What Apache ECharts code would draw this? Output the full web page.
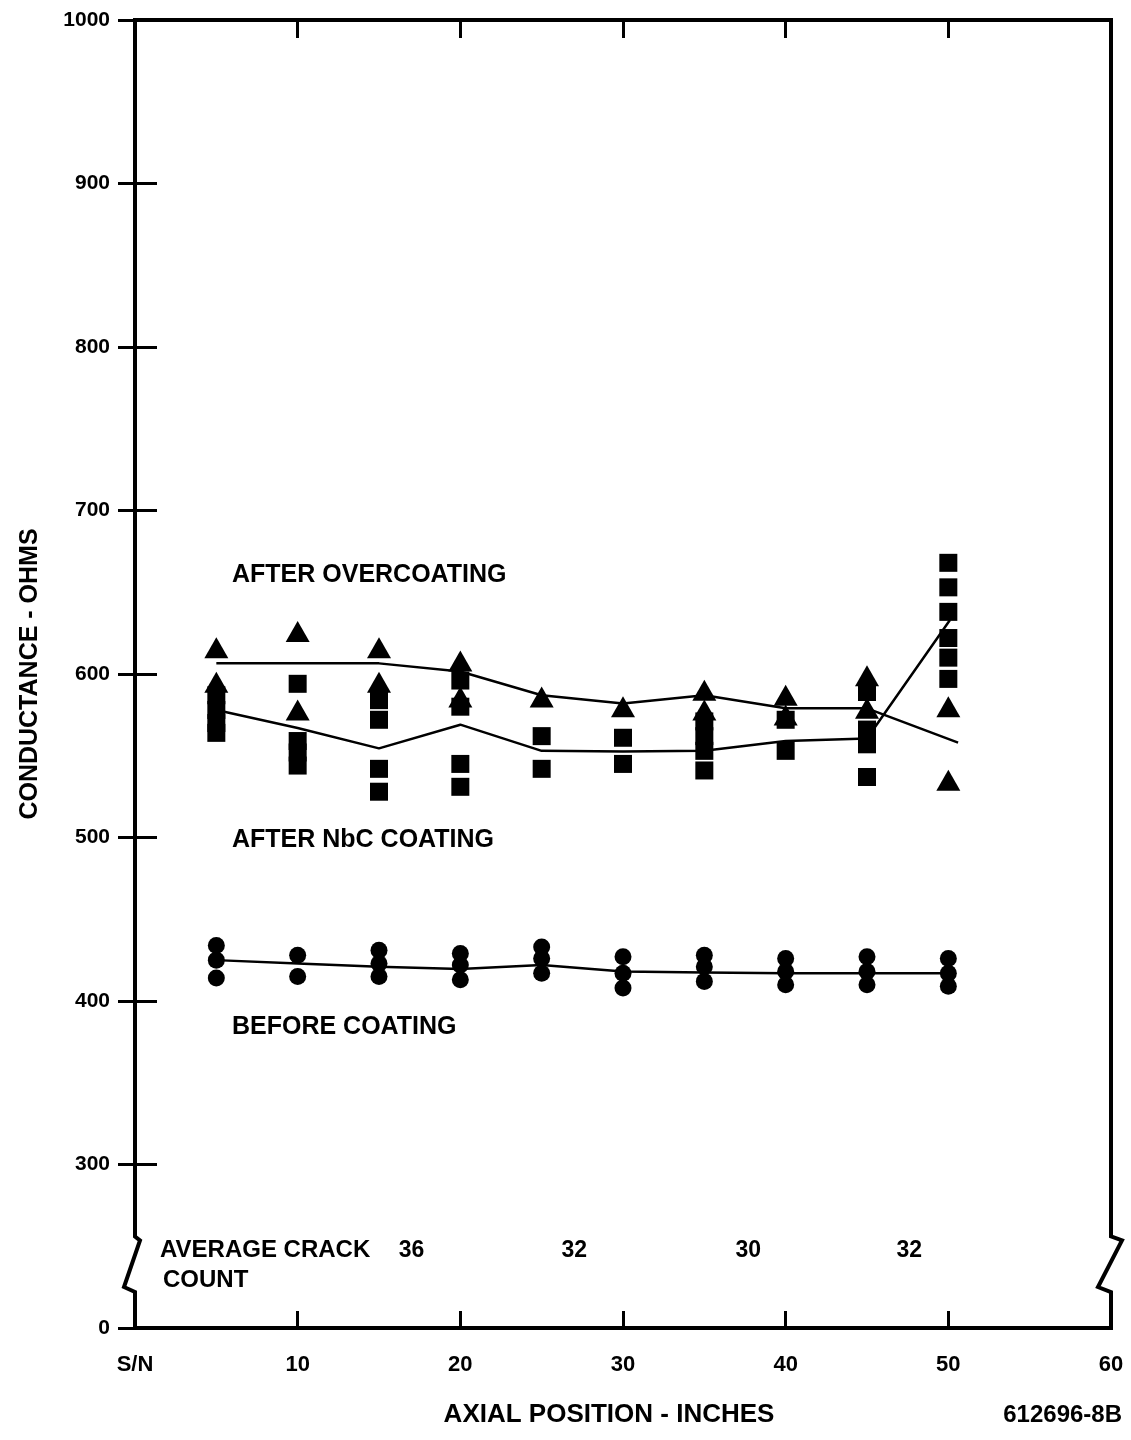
<!DOCTYPE html>
<html><head><meta charset="utf-8">
<script src="https://cdn.jsdelivr.net/npm/echarts@6/dist/echarts.min.js"></script>
<style>html,body{margin:0;padding:0;background:#fff}#c{width:1131px;height:1440px}</style>
</head><body><div id="c"></div>
<script>
// ---- data ----
const positions = [5, 10, 15, 20, 25, 30, 35, 40, 45, 50];
// After overcoating (triangles)
const overcoatValues = [[616, 595], [626, 578], [616, 595], [608, 586], [586], [580], [590, 578], [587, 575], [599, 579], [580, 535]];
// After NbC coating (squares)
const nbcValues = [[587, 578, 570, 564], [594, 559, 552, 544], [584, 572, 542, 528], [596, 580, 545, 531], [562, 542], [561, 545], [571, 562, 553, 541], [572, 553], [589, 566, 557, 537], [668, 653, 638, 622, 610, 597]];
// Before coating (circles)
const beforeValues = [[434, 425, 414], [428, 415], [431, 423, 415], [429, 422, 413], [433, 426, 417], [427, 417, 408], [428, 421, 412], [426, 418, 410], [427, 418, 410], [426, 417, 409]];
// Faired lines
const overcoatLineX = [5, 10, 15, 20, 25, 30, 35, 40, 45, 50.6];
const overcoatLine = [606.5, 606.5, 606.5, 601.5, 587, 582, 587, 579, 579, 558];
const nbcLineX = [5, 10, 15, 20, 25, 30, 35, 40, 45, 50.1];
const nbcLine = [578, 567, 554.5, 569, 553, 552.6, 553, 559, 560.5, 633];
const beforeLineX = [5, 10, 15, 20, 25, 30, 35, 40, 45, 50];
const beforeLine = [425, 423, 421, 419.5, 422, 418, 417.5, 417, 417, 417];
// Average crack count
const crackX = [17, 27, 37.7, 47.6];
const crackCount = [36, 32, 30, 32];
// Tick labels
const xTickValues = [0, 10, 20, 30, 40, 50, 60];
const xTickLabels = ['S/N', '10', '20', '30', '40', '50', '60'];
const yTickValues = [200, 300, 400, 500, 600, 700, 800, 900, 1000];
const yTickLabels = ['0', '300', '400', '500', '600', '700', '800', '900', '1000'];

const FONT = 'Liberation Sans';
const INK = '#000';

function flatten(values) {
  const out = [];
  values.forEach((col, i) => col.forEach(v => out.push([positions[i], v])));
  return out;
}
function zip(xs, ys) { return xs.map((x, i) => [x, ys[i]]); }

const chart = echarts.init(document.getElementById('c'), null, { renderer: 'canvas' });

const markerSeries = (name, data, symbol, size) => ({
  name, type: 'scatter', data, symbol, symbolSize: size,
  itemStyle: { color: INK, opacity: 1 }, z: 5, silent: true
});
const lineSeries = (name, data) => ({
  name, type: 'line', data, showSymbol: false, symbol: 'none',
  lineStyle: { color: INK, width: 2.5 }, z: 4, silent: true
});
const labelFont = { color: INK, fontFamily: FONT, fontWeight: 'bold' };

const option = {
  backgroundColor: '#fff',
  animation: false,
  grid: { left: 135, right: 20, top: 20, bottom: 112 },
  xAxis: [{
    type: 'value', min: 0, max: 60, interval: 10, position: 'bottom',
    axisLine: { show: true, lineStyle: { color: INK, width: 4 } },
    axisTick: { show: true, inside: true, length: 17, lineStyle: { color: INK, width: 3 } },
    axisLabel: Object.assign({ fontSize: 22, margin: 26,
      formatter: v => xTickLabels[xTickValues.indexOf(v)] }, labelFont),
    splitLine: { show: false }
  }, {
    type: 'value', min: 0, max: 60, interval: 10, position: 'top',
    axisLine: { show: true, lineStyle: { color: INK, width: 4 } },
    axisTick: { show: true, inside: true, length: 18, lineStyle: { color: INK, width: 3 } },
    axisLabel: { show: false }, splitLine: { show: false }
  }],
  yAxis: [{
    type: 'value', min: 200, max: 1000, interval: 100, position: 'left',
    name: 'CONDUCTANCE - OHMS', nameLocation: 'middle', nameGap: 92,
    nameTextStyle: Object.assign({ fontSize: 25 }, labelFont),
    axisLine: { show: false },
    axisTick: { show: true, inside: true, length: 22, lineStyle: { color: INK, width: 3 } },
    axisLabel: Object.assign({ fontSize: 21, margin: 25,
      formatter: v => yTickLabels[yTickValues.indexOf(v)] }, labelFont),
    splitLine: { show: false }
  }, {
    type: 'value', min: 200, max: 1000, interval: 100, position: 'right',
    axisLine: { show: false },
    axisTick: { show: true, inside: true, length: 17, lineStyle: { color: INK, width: 3 } },
    axisLabel: { show: false }, splitLine: { show: false }
  }],
  series: [
    lineSeries('overcoatLine', zip(overcoatLineX, overcoatLine)),
    lineSeries('nbcLine', zip(nbcLineX, nbcLine)),
    lineSeries('beforeLine', zip(beforeLineX, beforeLine)),
    markerSeries('After overcoating', flatten(overcoatValues), 'triangle', [24, 21]),
    markerSeries('After NbC coating', flatten(nbcValues), 'rect', [18, 18]),
    markerSeries('Before coating', flatten(beforeValues), 'circle', 17),
    {
      name: 'crack', type: 'scatter', symbol: 'circle', symbolSize: 1,
      itemStyle: { color: 'rgba(0,0,0,0)', opacity: 1 },
      data: crackX.map((x, i) => [x, 247, crackCount[i]]),
      label: Object.assign({ show: true, position: 'inside', opacity: 1, fontSize: 23,
        formatter: p => String(p.value[2]) }, labelFont),
      silent: true
    }
  ]
};
chart.setOption(option);

// frame sides with axis-break zigzags
const px = (x, y) => chart.convertToPixel({ xAxisIndex: 0, yAxisIndex: 0 }, [x, y]);
const tl = px(0, 1000), bl = px(0, 200), tr = px(60, 1000);
const b1 = px(0, 256)[1], b2 = px(0, 222)[1];
const xl = tl[0], xr = tr[0];
const side = (x, jog, back) => ({
  type: 'polyline', silent: true,
  shape: { points: [[x, tl[1] - 2], [x, b1], [x + jog, b1 + 4], [x - back, b2 - 5], [x, b2], [x, bl[1] + 2]] },
  style: { stroke: INK, lineWidth: 4, fill: null, lineJoin: 'miter' }
});
const txt = (text, x, y, opts) => Object.assign({
  type: 'text', silent: true, x, y,
  style: Object.assign({ text, fill: INK, font: 'bold 25px "' + FONT + '"', textVerticalAlign: 'middle' }, opts || {})
});
chart.setOption({
  graphic: [
    side(xl, 5, 11),
    side(xr, 11, 13),
    txt('AFTER OVERCOATING', 232, 575),
    txt('AFTER NbC COATING', 232, 840),
    txt('BEFORE COATING', 232, 1027),
    txt('AVERAGE CRACK', 160, 1250, { font: 'bold 24px "' + FONT + '"' }),
    txt('COUNT', 163, 1280, { font: 'bold 24px "' + FONT + '"' }),
    txt('AXIAL POSITION - INCHES', 609, 1415, { textAlign: 'center', font: 'bold 26px "' + FONT + '"' }),
    txt('612696-8B', 1122, 1415, { textAlign: 'right', font: 'bold 24px "' + FONT + '"' })
  ]
});
</script>
</body></html>
